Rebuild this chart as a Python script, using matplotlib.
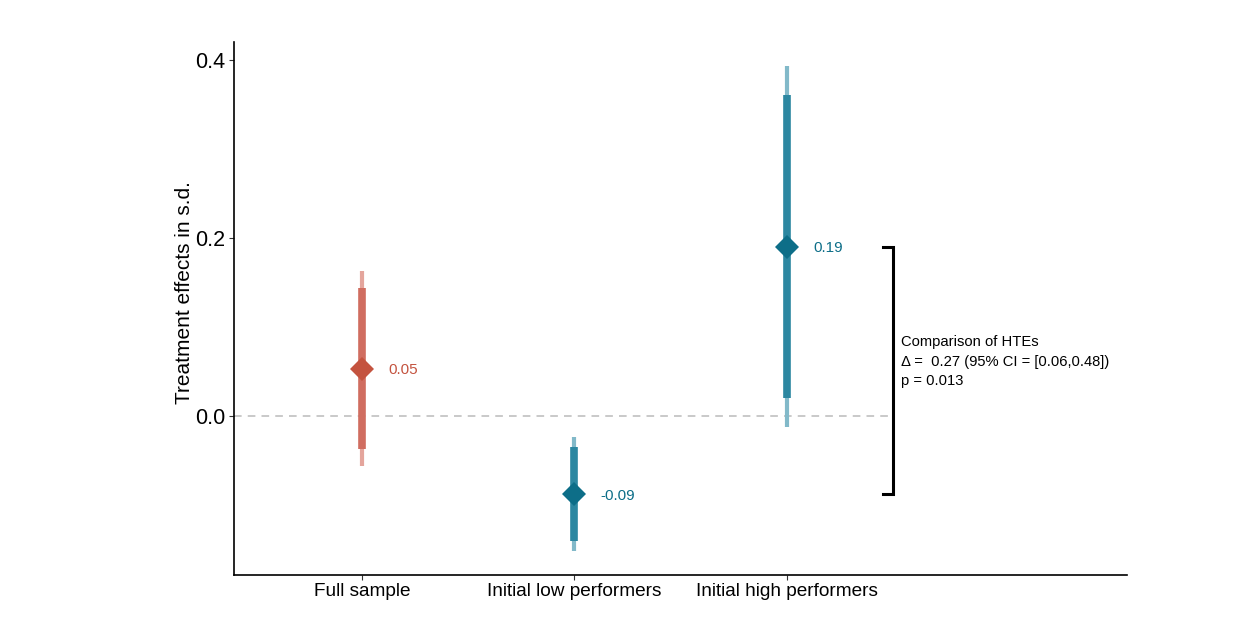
import matplotlib
matplotlib.use("Agg")
import matplotlib.pyplot as plt

plt.rcParams['font.family'] = ['Liberation Sans', 'DejaVu Sans']

categories = ["Full sample", "Initial low performers", "Initial high performers"]
estimates = [0.053, -0.088, 0.190]
ci95_low = [-0.056, -0.152, -0.012]
ci95_high = [0.163, -0.024, 0.393]
ci90_low = [-0.037, -0.140, 0.020]
ci90_high = [0.144, -0.035, 0.361]
value_labels = ["0.05", "-0.09", "0.19"]
group = ["full", "sub", "sub"]

colors = {
    "full": ("#C4533F", "#D06D60", "#E4A59C"),
    "sub": ("#0D6E88", "#2C87A1", "#82B9C9"),
}

fig = plt.figure(figsize=(12.42, 6.25), dpi=100)
ax = fig.add_axes([0.1884, 0.08, 0.7190, 0.8528])

xs = [1, 2, 3]
ax.axhline(0, xmin=0, xmax=(3.5 - 0.398) / (4.6 - 0.398), color="#BBBBBB",
           linestyle=(0, (5, 4)), linewidth=1.1, zorder=1)

for x, est, l95, h95, l90, h90, lab, g in zip(xs, estimates, ci95_low, ci95_high,
                                               ci90_low, ci90_high, value_labels, group):
    cpt, cthick, cthin = colors[g]
    ax.plot([x, x], [l95, h95], color=cthin, linewidth=3.0, solid_capstyle="butt", zorder=2)
    ax.plot([x, x], [l90, h90], color=cthick, linewidth=5.5, solid_capstyle="butt", zorder=3)
    ax.plot([x], [est], marker="D", markersize=12.5, color=cpt, markeredgewidth=0, zorder=4)
    ax.annotate(lab, (x, est), xytext=(19, -1), textcoords="offset points",
                ha="left", va="center", fontsize=11, color=cpt)

# bracket comparing HTEs
bx = 3.5
ax.plot([bx - 0.05, bx, bx, bx - 0.05], [estimates[2], estimates[2], estimates[1], estimates[1]],
        color="black", linewidth=2.2, solid_joinstyle="miter", clip_on=False, zorder=5)
ax.text(bx + 0.037, 0.061, "Comparison of HTEs\nΔ =  0.27 (95% CI = [0.06,0.48])\np = 0.013",
        ha="left", va="center", fontsize=10.6, linespacing=1.5, color="black")

ax.set_xlim(0.398, 4.6)
ax.set_ylim(-0.1787, 0.420)
ax.set_xticks(xs)
ax.set_xticklabels(categories, fontsize=13.7)
ax.set_yticks([0.0, 0.2, 0.4])
ax.set_yticklabels(["0.0", "0.2", "0.4"], fontsize=15.5)
ax.set_ylabel("Treatment effects in s.d.", fontsize=15)
ax.yaxis.set_label_coords(-0.045, 0.529)

for s in ["top", "right"]:
    ax.spines[s].set_visible(False)
for s in ["left", "bottom"]:
    ax.spines[s].set_linewidth(1.2)
ax.tick_params(axis="both", direction="out", length=3.5, width=0.8, color="#333333", pad=2.5)

fig.savefig("out.png", dpi=100)
